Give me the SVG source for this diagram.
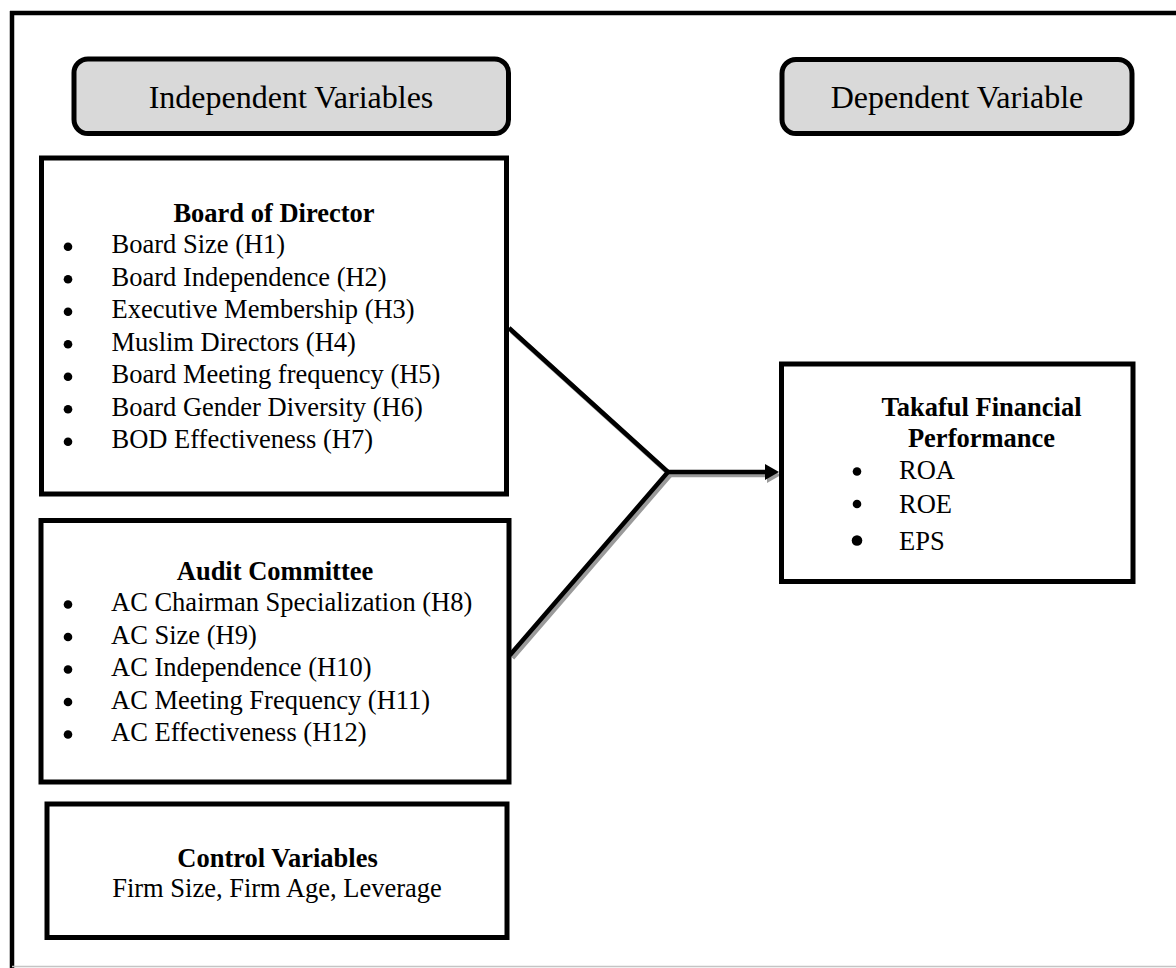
<svg xmlns="http://www.w3.org/2000/svg" width="1176" height="968" viewBox="0 0 1176 968">
<defs>
<style>
text{font-family:"Liberation Serif","Times New Roman",serif;fill:#000}
.hdr{font-size:32px;text-anchor:middle}
.ttl{font-size:26.5px;font-weight:bold;text-anchor:middle}
.itm{font-size:26.5px}
.ctr{font-size:26.5px;text-anchor:middle}
.box{fill:#fff;stroke:#000;stroke-width:5}
.pill{fill:#d9d9d9;stroke:#000;stroke-width:5}
.frame{stroke:#000;stroke-width:4.5;fill:none}
.blt{fill:#000}
.con{fill:none;stroke:#000;stroke-width:4.5;stroke-linejoin:miter}
.shd{fill:none;stroke:#9a9a9a;stroke-width:4.5;stroke-linejoin:miter}
</style>
<marker id="arrow" markerUnits="userSpaceOnUse" markerWidth="14" markerHeight="16" refX="5" refY="8" orient="auto">
<path d="M0,0 L14,8 L0,16 z" fill="#000"/>
</marker>
<marker id="arrowShd" markerUnits="userSpaceOnUse" markerWidth="14" markerHeight="16" refX="5" refY="8" orient="auto">
<path d="M0,0 L14,8 L0,16 z" fill="#9a9a9a"/>
</marker>
</defs>
<rect width="1176" height="968" fill="#fff"/>
<g id="frame">
<line class="frame" x1="10" y1="13" x2="1176" y2="13"/>
<line class="frame" x1="12" y1="11" x2="12" y2="968"/>
<line x1="12" y1="966.5" x2="1176" y2="966.5" stroke="#c4c4c4" stroke-width="1.5"/>
</g>
<g id="connectors">
<polyline class="shd" points="511.5,331 670.5,475 512.5,658"/>
<line class="shd" x1="670.5" y1="475" x2="772" y2="475" marker-end="url(#arrowShd)"/>
<polyline class="con" points="509,328 668,472 510,655"/>
<line class="con" x1="668" y1="472" x2="770" y2="472" marker-end="url(#arrow)"/>
</g>
<g id="independent-header">
<rect class="pill" x="74" y="59" width="434.5" height="74.5" rx="14" ry="14"/>
<text class="hdr" x="291" y="108">Independent Variables</text>
</g>
<g id="dependent-header">
<rect class="pill" x="782" y="59.5" width="350" height="74" rx="14" ry="14"/>
<text class="hdr" x="957" y="108">Dependent Variable</text>
</g>
<g id="board-of-director">
<rect class="box" x="41.5" y="158" width="465" height="336"/>
<text class="ttl" x="274" y="222">Board of Director</text>
<circle class="blt" cx="68" cy="246.7" r="4.3"/>
<circle class="blt" cx="68" cy="279.2" r="4.3"/>
<circle class="blt" cx="68" cy="311.7" r="4.3"/>
<circle class="blt" cx="68" cy="344.2" r="4.3"/>
<circle class="blt" cx="68" cy="376.7" r="4.3"/>
<circle class="blt" cx="68" cy="409.2" r="4.3"/>
<circle class="blt" cx="68" cy="441.7" r="4.3"/>
<text class="itm" x="111.5" y="253">Board Size (H1)</text>
<text class="itm" x="111.5" y="285.5">Board Independence (H2)</text>
<text class="itm" x="111.5" y="318">Executive Membership (H3)</text>
<text class="itm" x="111.5" y="350.5">Muslim Directors (H4)</text>
<text class="itm" x="111.5" y="383">Board Meeting frequency (H5)</text>
<text class="itm" x="111.5" y="415.5">Board Gender Diversity (H6)</text>
<text class="itm" x="111.5" y="448">BOD Effectiveness (H7)</text>
</g>
<g id="audit-committee">
<rect class="box" x="41" y="520.5" width="468" height="261.5"/>
<text class="ttl" x="275" y="579.5">Audit Committee</text>
<circle class="blt" cx="68" cy="604.5" r="4.3"/>
<circle class="blt" cx="68" cy="637" r="4.3"/>
<circle class="blt" cx="68" cy="669.5" r="4.3"/>
<circle class="blt" cx="68" cy="702" r="4.3"/>
<circle class="blt" cx="68" cy="734.5" r="4.3"/>
<text class="itm" x="111" y="611">AC Chairman Specialization (H8)</text>
<text class="itm" x="111" y="643.5">AC Size (H9)</text>
<text class="itm" x="111" y="676">AC Independence (H10)</text>
<text class="itm" x="111" y="708.5">AC Meeting Frequency (H11)</text>
<text class="itm" x="111" y="741">AC Effectiveness (H12)</text>
</g>
<g id="control-variables">
<rect class="box" x="47" y="804" width="460" height="133.5"/>
<text class="ttl" x="277.5" y="866.5">Control Variables</text>
<text class="ctr" x="277" y="896.5">Firm Size, Firm Age, Leverage</text>
</g>
<g id="takaful-performance">
<rect class="box" x="781.5" y="364" width="351.5" height="217.5"/>
<text class="ttl" x="981.5" y="416">Takaful Financial</text>
<text class="ttl" x="981.5" y="447">Performance</text>
<circle class="blt" cx="857" cy="471.5" r="4.3"/>
<circle class="blt" cx="857" cy="504" r="4.3"/>
<circle class="blt" cx="857" cy="540.5" r="5.3"/>
<text class="itm" x="899" y="479">ROA</text>
<text class="itm" x="899" y="512.5">ROE</text>
<text class="itm" x="899" y="550">EPS</text>
</g>
</svg>
